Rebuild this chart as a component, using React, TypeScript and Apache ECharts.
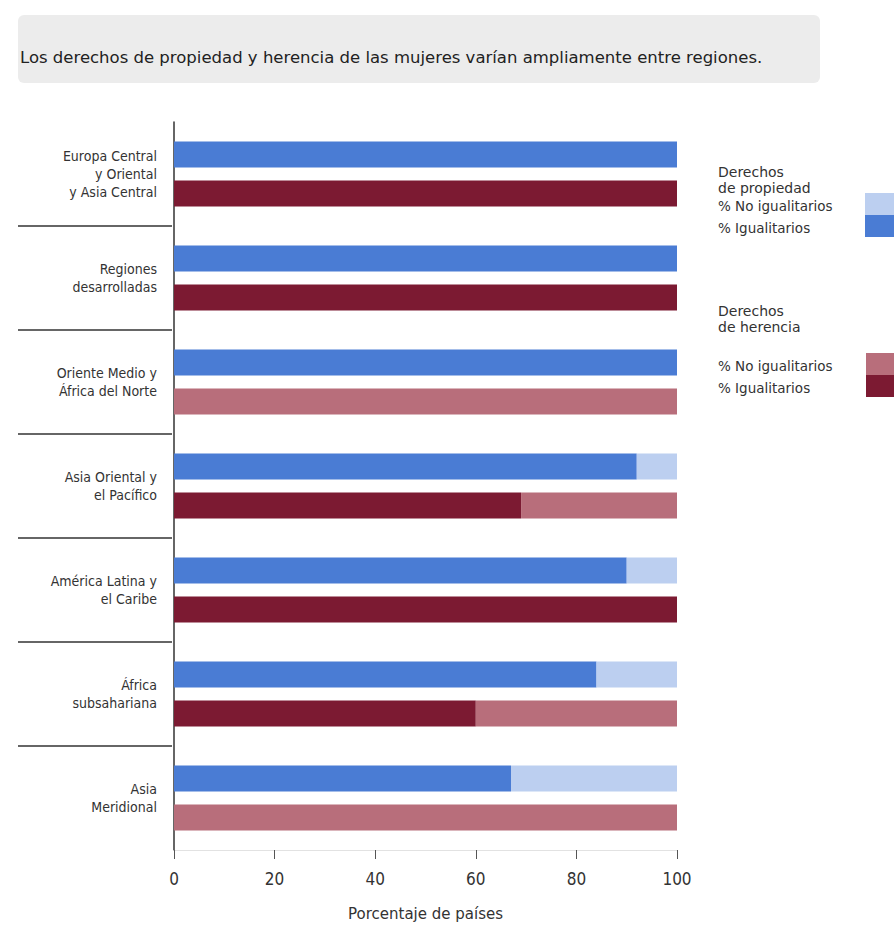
import React, { useEffect, useRef } from "react";
import * as echarts from "echarts";

const categories = [
  "Europa Central\ny Oriental\ny Asia Central",
  "Regiones\ndesarrolladas",
  "Oriente Medio y\nÁfrica del Norte",
  "Asia Oriental y\nel Pacífico",
  "América Latina y\nel Caribe",
  "África\nsubsahariana",
  "Asia\nMeridional",
];
const propIgualitarios = [100, 100, 100, 92, 90, 84, 67];
const propNoIgualitarios = [0, 0, 0, 8, 10, 16, 33];
const herIgualitarios = [100, 100, 0, 69, 100, 60, 0];
const herNoIgualitarios = [0, 0, 100, 31, 0, 40, 100];
const xTicks = [0, 20, 40, 60, 80, 100];

const NARROW = '"DejaVu Sans Condensed", "Liberation Sans", sans-serif';
const WIDE = '"DejaVu Sans", "Liberation Sans", sans-serif';
const BLUE = "#4a7cd4";
const LIGHT_BLUE = "#bccff0";
const MAROON = "#7c1a32";
const ROSE = "#b86e7b";

export default function App() {
  const ref = useRef<HTMLDivElement>(null);
  useEffect(() => {
    document.body.style.margin = "0";
    const chart = echarts.init(ref.current!, null, { renderer: "svg" });
    const barCommon = { type: "bar", barWidth: 26, barGap: "50%", barCategoryGap: "0%" };
    chart.setOption({
      animation: false,
      grid: { left: 174, right: 217, top: 122, bottom: 69 },
      xAxis: {
        type: "value",
        min: xTicks[0],
        max: xTicks[xTicks.length - 1],
        interval: 20,
        name: "Porcentaje de países",
        nameLocation: "middle",
        nameGap: 56,
        nameTextStyle: { fontFamily: WIDE, fontSize: 15, color: "#333" },
        axisLine: { show: true, lineStyle: { color: "#e2e2e2" } },
        axisTick: { show: true, length: 9, lineStyle: { color: "#555" } },
        axisLabel: { fontFamily: NARROW, fontSize: 17, color: "#333", margin: 20 },
        splitLine: { show: false },
      },
      yAxis: {
        type: "category",
        data: categories,
        inverse: true,
        axisLine: { show: true, lineStyle: { color: "#333", width: 1.5 } },
        axisTick: { show: false },
        axisLabel: { fontFamily: NARROW, fontSize: 14, color: "#333", margin: 17, lineHeight: 18, align: "right" },
      },
      series: [
        { ...barCommon, name: "Propiedad % Igualitarios", stack: "prop", data: propIgualitarios, itemStyle: { color: BLUE } },
        { ...barCommon, name: "Propiedad % No igualitarios", stack: "prop", data: propNoIgualitarios, itemStyle: { color: LIGHT_BLUE } },
        { ...barCommon, name: "Herencia % Igualitarios", stack: "her", data: herIgualitarios, itemStyle: { color: MAROON } },
        { ...barCommon, name: "Herencia % No igualitarios", stack: "her", data: herNoIgualitarios, itemStyle: { color: ROSE } },
      ],
    });

    // separators between categories, derived from the category scale
    const seps: any[] = [];
    for (let i = 0; i < categories.length - 1; i++) {
      const y0 = chart.convertToPixel({ yAxisIndex: 0 }, i) as number;
      const y1 = chart.convertToPixel({ yAxisIndex: 0 }, i + 1) as number;
      const y = (y0 + y1) / 2;
      seps.push({ type: "line", shape: { x1: 18, y1: y, x2: 172, y2: y }, style: { stroke: "#333", lineWidth: 1.5 } });
    }

    const legendText = (x: number, y: number, text: string, size = 13, lh = 16) => ({
      type: "text",
      x,
      y,
      style: { text, fontFamily: WIDE, fontSize: size, fill: "#333", lineHeight: lh, verticalAlign: "middle" },
    });

    chart.setOption({
      graphic: [
        { type: "rect", shape: { x: 18, y: 15, width: 802, height: 68, r: 6 }, style: { fill: "#ececec" } },
        {
          type: "text",
          x: 20,
          y: 57,
          style: {
            text: "Los derechos de propiedad y herencia de las mujeres varían ampliamente entre regiones.",
            fontFamily: WIDE,
            fontSize: 16.5,
            fill: "#222",
            verticalAlign: "middle",
          },
        },
        ...seps,
        legendText(718, 180, "Derechos\nde propiedad", 14, 16),
        legendText(718, 206, "% No igualitarios", 13.5),
        legendText(718, 228, "% Igualitarios", 13.5),
        { type: "rect", shape: { x: 865, y: 193, width: 29, height: 22 }, style: { fill: LIGHT_BLUE } },
        { type: "rect", shape: { x: 865, y: 215, width: 29, height: 22 }, style: { fill: BLUE } },
        legendText(718, 319, "Derechos\nde herencia", 14, 16),
        legendText(718, 366, "% No igualitarios", 13.5),
        legendText(718, 388, "% Igualitarios", 13.5),
        { type: "rect", shape: { x: 866, y: 353, width: 28, height: 22 }, style: { fill: ROSE } },
        { type: "rect", shape: { x: 866, y: 375, width: 28, height: 22 }, style: { fill: MAROON } },
      ],
    });
    return () => chart.dispose();
  }, []);
  return <div ref={ref} style={{ width: 894, height: 926 }} />;
}
